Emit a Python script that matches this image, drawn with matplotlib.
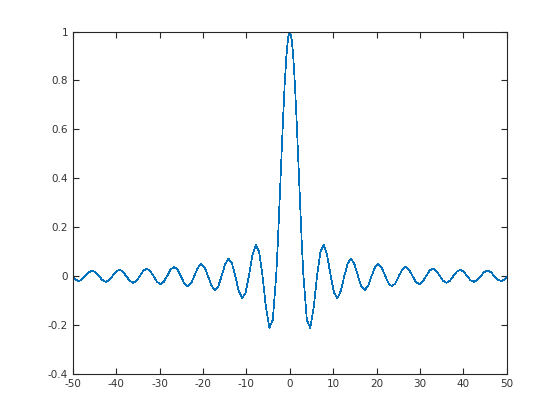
import numpy as np
import matplotlib
matplotlib.use("Agg")
import matplotlib.pyplot as plt

# positive half of the curve (curve is symmetric about x = 0)
x_half = [0.0, 0.3927, 0.7854, 1.1781, 1.5708, 1.9635, 2.3562, 2.7489, 3.1416,
          3.9270, 4.7124, 5.4978, 6.2832, 7.0686, 7.8540, 8.6394, 9.4248,
          10.2102, 10.9956, 11.7810, 12.5664, 13.3518, 14.1372, 14.9226, 15.7080,
          16.4934, 17.2788, 18.0642, 18.8496, 19.6350, 20.4204, 21.2058, 21.9911,
          22.7765, 23.5619, 24.3473, 25.1327, 25.9181, 26.7035, 27.4889, 28.2743,
          29.0597, 29.8451, 30.6305, 31.4159, 32.2013, 32.9867, 33.7721, 34.5575,
          35.3429, 36.1283, 36.9137, 37.6991, 38.4845, 39.2699, 40.0553, 40.8407,
          41.6261, 42.4115, 43.1969, 43.9823, 44.7677, 45.5531, 46.3385, 47.1239,
          47.9093, 48.6947, 49.4801, 50.0]
y_half = [1.0, 0.9745, 0.9003, 0.7842, 0.6366, 0.4705, 0.3001, 0.1392, 0.0,
          -0.1801, -0.2122, -0.1286, 0.0, 0.1000, 0.1273, 0.0818, 0.0,
          -0.0693, -0.0909, -0.0600, 0.0, 0.0530, 0.0707, 0.0474, 0.0,
          -0.0429, -0.0579, -0.0391, 0.0, 0.0360, 0.0490, 0.0333, 0.0,
          -0.0310, -0.0424, -0.0290, 0.0, 0.0273, 0.0374, 0.0257, 0.0,
          -0.0243, -0.0335, -0.0231, 0.0, 0.0220, 0.0303, 0.0209, 0.0,
          -0.0200, -0.0277, -0.0192, 0.0, 0.0184, 0.0255, 0.0177, 0.0,
          -0.0170, -0.0236, -0.0164, 0.0, 0.0158, 0.0220, 0.0153, 0.0,
          -0.0148, -0.0205, -0.0143, -0.0052]

xticks = [-50, -40, -30, -20, -10, 0, 10, 20, 30, 40, 50]
xtick_labels = ["-50", "-40", "-30", "-20", "-10", "0", "10", "20", "30", "40", "50"]
yticks = [-0.4, -0.2, 0, 0.2, 0.4, 0.6, 0.8, 1]
ytick_labels = ["-0.4", "-0.2", "0", "0.2", "0.4", "0.6", "0.8", "1"]

x = np.concatenate([-np.array(x_half[:0:-1]), np.array(x_half)])
y = np.concatenate([np.array(y_half[:0:-1]), np.array(y_half)])

fig = plt.figure(figsize=(5.6, 4.2), dpi=100)
ax = fig.add_axes([0.13, 0.11, 0.775, 0.815])
ax.plot(x, y, color="#0072BD", linewidth=0.5, antialiased=False)

ax.set_xlim(-50, 50)
ax.set_ylim(-0.4, 1)
ax.set_xticks(xticks, xtick_labels)
ax.set_yticks(yticks, ytick_labels)
ax.tick_params(direction="in", top=True, right=True, length=4, width=0.8,
               labelsize=7.5, labelcolor="#333333", color="#262626")
for s in ax.spines.values():
    s.set_linewidth(0.8)
    s.set_color("#262626")

fig.savefig("out.png", dpi=100)
